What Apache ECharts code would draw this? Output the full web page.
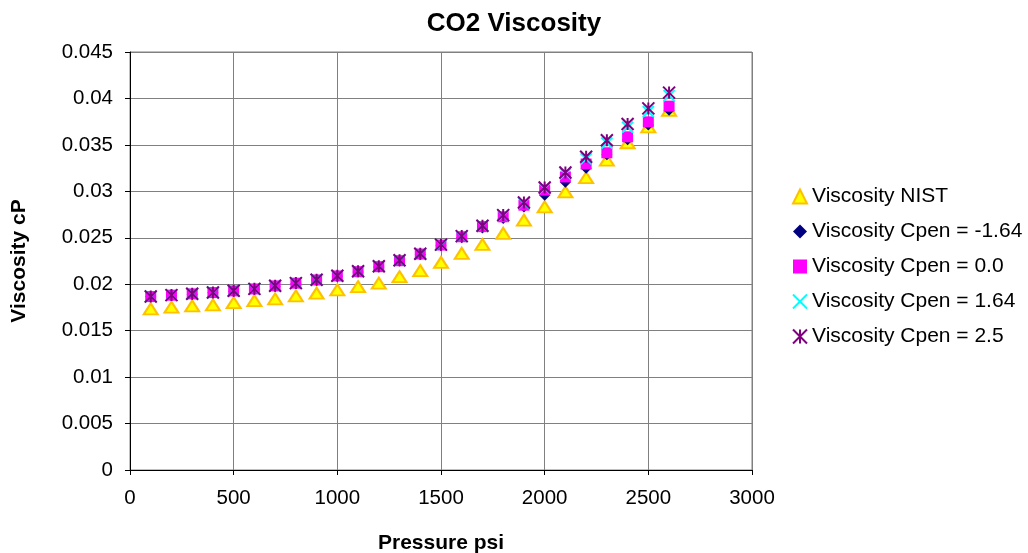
<!DOCTYPE html>
<html>
<head>
<meta charset="utf-8">
<script src="https://cdn.jsdelivr.net/npm/echarts@6/dist/echarts.min.js"></script>
<style>
html,body{margin:0;padding:0;background:#fff;}
#c{width:1028px;height:553px;}
</style>
</head>
<body>
<div id="c"></div>
<script>
const pressure = [100,200,300,400,500,600,700,800,900,1000,1100,1200,1300,1400,1500,1600,1700,1800,1900,2000,2100,2200,2300,2400,2500,2600];
const viscNIST = [0.01735,0.01753,0.01767,0.01777,0.01802,0.01824,0.01842,0.01874,0.01903,0.01939,0.01974,0.02011,0.02081,0.02146,0.02234,0.02333,0.02429,0.02548,0.0269,0.02833,0.02994,0.03147,0.03335,0.03523,0.03695,0.03872];
const viscCpenM164 = [0.01864,0.01879,0.01893,0.01907,0.01925,0.01946,0.01979,0.02008,0.02043,0.02086,0.02131,0.02185,0.02249,0.02320,0.02415,0.02500,0.02605,0.02708,0.0283,0.02958,0.03098,0.03249,0.03394,0.03555,0.03713,0.03874];
const viscCpen0 = [0.01867,0.01882,0.01896,0.01910,0.01928,0.01949,0.01982,0.02011,0.02046,0.02089,0.02135,0.02189,0.02253,0.02325,0.02422,0.02511,0.0262,0.02726,0.02851,0.03013,0.03155,0.03294,0.03415,0.03587,0.03748,0.03917];
const viscCpen164 = [0.01868,0.01883,0.01897,0.01911,0.01929,0.01950,0.01983,0.02012,0.02048,0.02091,0.02138,0.02192,0.02256,0.02327,0.02424,0.02515,0.02626,0.0274,0.02872,0.03032,0.0319,0.0335,0.0352,0.0369,0.0386,0.0403];
const viscCpen25 = [0.01868,0.01883,0.01897,0.01911,0.01929,0.01950,0.01983,0.02012,0.02048,0.02092,0.02139,0.02193,0.02258,0.02328,0.02426,0.02518,0.02629,0.02744,0.0288,0.03042,0.03203,0.03372,0.0355,0.03724,0.03893,0.04063];
const xTicks = {min:0, max:3000, interval:500};
const yTicks = {min:0, max:0.045, interval:0.005};

function pts(ys){ return pressure.map((p,i)=>[p, ys[i]]); }

const font = 'Liberation Sans, Arial, sans-serif';
const chart = echarts.init(document.getElementById('c'), null, {renderer:'canvas'});
chart.setOption({
  animation:false,
  backgroundColor:'#ffffff',
  title:{
    text:'CO2 Viscosity', left:'center', top:6,
    textStyle:{fontFamily:font, fontSize:26, fontWeight:'bold', color:'#000'}
  },
  legend:{
    orient:'vertical', left:787, top:180,
    itemWidth:14, itemHeight:14, itemGap:12,
    textStyle:{fontFamily:font, fontSize:21, color:'#000', lineHeight:23},
    data:['Viscosity NIST','Viscosity Cpen = -1.64','Viscosity Cpen = 0.0','Viscosity Cpen = 1.64','Viscosity Cpen = 2.5']
  },
  grid:{left:130, right:276, top:52, bottom:83, show:true, borderColor:'#808080', borderWidth:1,
    containLabel:false, outerBoundsMode:'none'},
  xAxis:{
    type:'value', min:xTicks.min, max:xTicks.max, interval:xTicks.interval,
    name:'Pressure psi', nameLocation:'middle', nameGap:63,
    nameTextStyle:{fontFamily:font, fontSize:21, fontWeight:'bold', color:'#000'},
    axisLine:{show:true, onZero:false, lineStyle:{color:'#000', width:1}},
    axisTick:{show:true, inside:false, length:5, lineStyle:{color:'#000'}},
    axisLabel:{fontFamily:font, fontSize:20.5, color:'#000', margin:18,
      formatter:function(v){ return String(v); }},
    splitLine:{show:true, lineStyle:{color:'#808080', width:1}}
  },
  yAxis:{
    type:'value', min:yTicks.min, max:yTicks.max, interval:yTicks.interval,
    name:'Viscosity cP', nameLocation:'middle', nameGap:100, nameRotate:90,
    nameTextStyle:{fontFamily:font, fontSize:21, fontWeight:'bold', color:'#000'},
    axisLine:{show:true, onZero:false, lineStyle:{color:'#000', width:1}},
    axisTick:{show:true, inside:false, length:5, lineStyle:{color:'#000'}},
    axisLabel:{fontFamily:font, fontSize:20.5, color:'#000', margin:17,
      formatter:function(v){ return String(+v.toFixed(3)); }},
    splitLine:{show:true, lineStyle:{color:'#808080', width:1}}
  },
  series:[
    {name:'Viscosity NIST', type:'scatter', data:pts(viscNIST), symbol:'triangle', symbolSize:[14,11],
     itemStyle:{color:'#FFFF00', borderColor:'#FFC000', borderWidth:2, opacity:1}, emphasis:{disabled:true}},
    {name:'Viscosity Cpen = -1.64', type:'scatter', data:pts(viscCpenM164), symbol:'diamond', symbolSize:[11,11],
     itemStyle:{color:'#000080', opacity:1}, emphasis:{disabled:true}},
    {name:'Viscosity Cpen = 0.0', type:'scatter', data:pts(viscCpen0), symbol:'rect', symbolSize:[11,11],
     itemStyle:{color:'#FF00FF', opacity:1}, emphasis:{disabled:true}},
    {name:'Viscosity Cpen = 1.64', type:'scatter', data:pts(viscCpen164), symbol:'path://M0,0L10,10M10,0L0,10', symbolSize:[11,11],
     itemStyle:{color:'#00FFFF', borderColor:'#00FFFF', borderWidth:2, opacity:1}, emphasis:{disabled:true}},
    {name:'Viscosity Cpen = 2.5', type:'scatter', data:pts(viscCpen25), symbol:'path://M0,0L10,10M10,0L0,10M5,0L5,10', symbolSize:[12,12],
     itemStyle:{color:'#800080', borderColor:'#800080', borderWidth:2, opacity:1}, emphasis:{disabled:true}}
  ]
});
</script>
</body>
</html>
